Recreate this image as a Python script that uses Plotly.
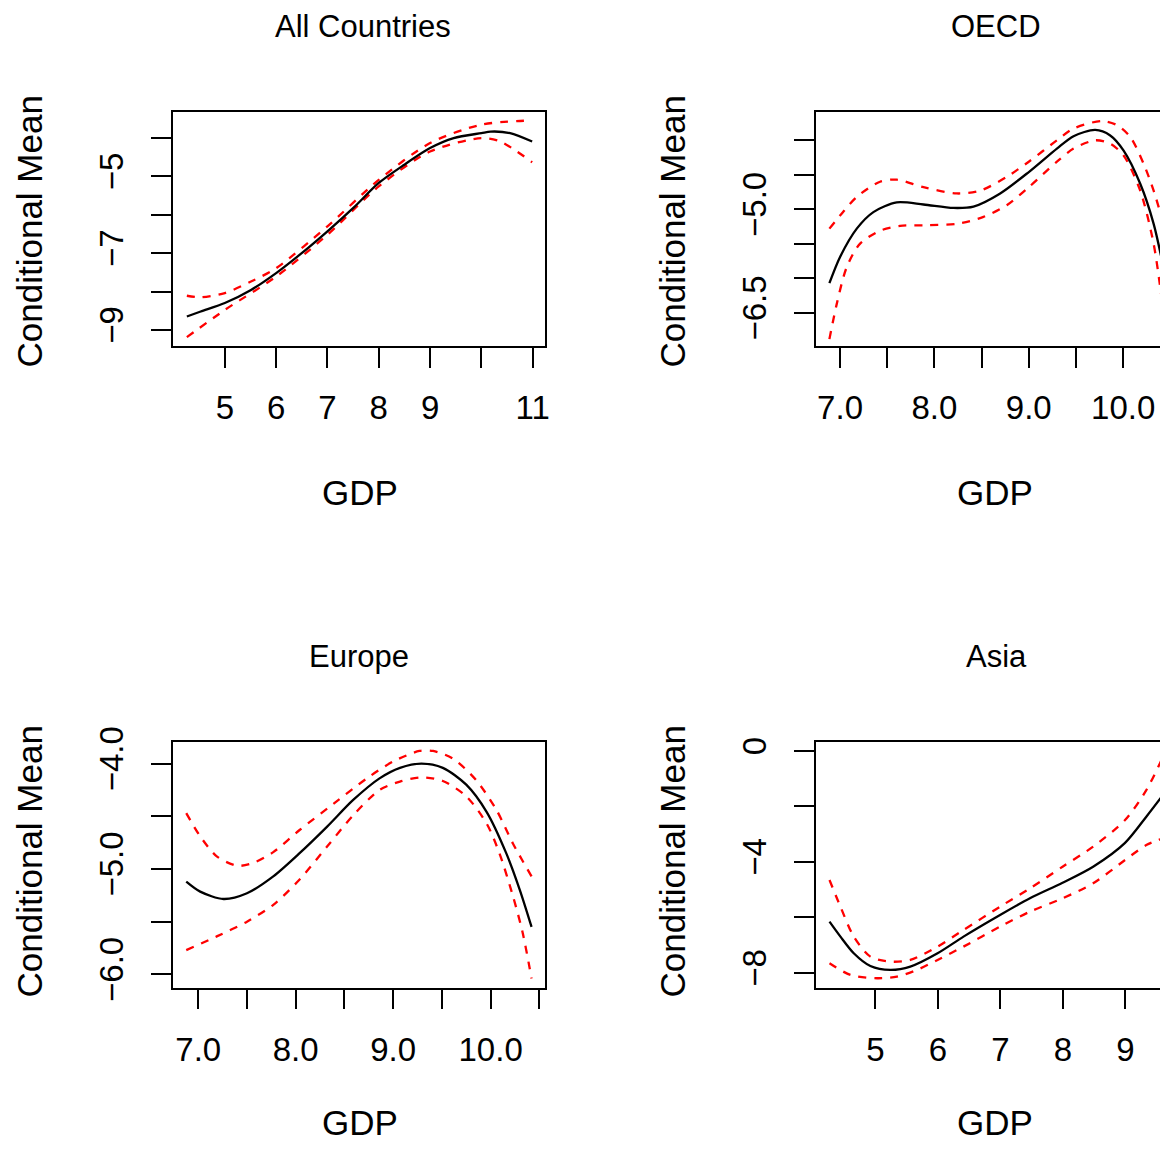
import plotly.graph_objects as go

# ---------------- data ----------------
# All Countries
all_fit_x = [4.26, 4.53, 5.0, 5.51, 6.0, 6.48, 7.0, 7.52, 8.0, 8.49, 9.0, 9.46, 10.0, 10.18, 10.56, 10.99]
all_fit_y = [-8.65, -8.52, -8.30, -7.96, -7.52, -7.02, -6.43, -5.80, -5.17, -4.70, -4.26, -4.00, -3.87, -3.83, -3.87, -4.09]
all_up_x = [4.26, 4.53, 5.0, 5.51, 6.0, 7.0, 8.0, 9.0, 10.0, 10.99]
all_up_y = [-8.11, -8.15, -8.04, -7.74, -7.39, -6.30, -5.09, -4.13, -3.65, -3.54]
all_lo_x = [4.26, 5.0, 6.0, 7.0, 8.0, 9.0, 10.0, 10.37, 10.99]
all_lo_y = [-9.19, -8.48, -7.61, -6.52, -5.26, -4.35, -4.00, -4.09, -4.63]

# OECD
oecd_fit_x = [6.887, 7.0, 7.177, 7.353, 7.601, 7.884, 8.202, 8.414, 8.697, 9.0, 9.298, 9.474, 9.704, 9.863, 10.005, 10.181, 10.323, 10.422]
oecd_fit_y = [-6.07, -5.69, -5.28, -5.04, -4.90, -4.93, -4.98, -4.96, -4.77, -4.46, -4.12, -3.94, -3.85, -3.93, -4.15, -4.63, -5.21, -5.81]
oecd_up_x = [6.887, 7.0, 7.177, 7.424, 7.601, 7.884, 8.237, 8.485, 8.767, 9.0, 9.298, 9.474, 9.775, 9.934, 10.075, 10.217, 10.323, 10.422]
oecd_up_y = [-5.28, -5.09, -4.82, -4.60, -4.57, -4.68, -4.77, -4.73, -4.53, -4.31, -4.00, -3.83, -3.72, -3.78, -3.95, -4.34, -4.73, -5.18]
oecd_lo_x = [6.887, 6.965, 7.07, 7.21, 7.424, 7.636, 7.919, 8.237, 8.52, 8.767, 9.0, 9.298, 9.474, 9.704, 9.863, 10.005, 10.181, 10.323, 10.422]
oecd_lo_y = [-6.88, -6.37, -5.84, -5.50, -5.31, -5.24, -5.23, -5.21, -5.11, -4.94, -4.68, -4.31, -4.12, -4.00, -4.05, -4.22, -4.73, -5.50, -6.44]

# Europe
eu_fit_x = [6.877, 7.02, 7.26, 7.50, 7.77, 8.04, 8.32, 8.59, 8.86, 9.07, 9.29, 9.51, 9.75, 9.96, 10.16, 10.30, 10.42]
eu_fit_y = [-5.12, -5.215, -5.285, -5.23, -5.07, -4.85, -4.60, -4.345, -4.14, -4.04, -4.00, -4.04, -4.20, -4.46, -4.85, -5.20, -5.55]
eu_up_x = [6.877, 7.02, 7.19, 7.40, 7.57, 7.77, 8.04, 8.39, 8.73, 9.0, 9.27, 9.41, 9.61, 9.85, 10.06, 10.23, 10.42]
eu_up_y = [-4.47, -4.69, -4.88, -4.97, -4.94, -4.84, -4.63, -4.38, -4.14, -3.98, -3.88, -3.88, -3.95, -4.155, -4.44, -4.76, -5.07]
eu_lo_x = [6.877, 7.19, 7.50, 7.77, 8.04, 8.32, 8.59, 8.86, 9.07, 9.29, 9.51, 9.75, 9.96, 10.09, 10.23, 10.33, 10.42]
eu_lo_y = [-5.77, -5.64, -5.50, -5.34, -5.10, -4.79, -4.49, -4.25, -4.17, -4.13, -4.165, -4.31, -4.57, -4.85, -5.26, -5.61, -6.04]

# Asia
asia_fit_x = [4.266, 4.441, 4.654, 4.920, 5.239, 5.559, 5.995, 6.410, 6.995, 7.473, 7.995, 8.484, 8.995, 9.335, 9.601]
asia_fit_y = [-6.15, -6.69, -7.29, -7.75, -7.89, -7.77, -7.29, -6.69, -5.91, -5.31, -4.75, -4.17, -3.31, -2.37, -1.59]
asia_up_x = [4.266, 4.441, 4.654, 4.920, 5.239, 5.559, 5.995, 6.410, 6.995, 7.473, 7.995, 8.484, 8.995, 9.335, 9.601]
asia_up_y = [-4.65, -5.61, -6.69, -7.41, -7.59, -7.53, -7.05, -6.45, -5.61, -4.95, -4.17, -3.45, -2.49, -1.41, -0.22]
asia_lo_x = [4.266, 4.601, 5.027, 5.346, 5.665, 5.995, 6.410, 6.995, 7.473, 7.995, 8.484, 8.995, 9.335, 9.601]
asia_lo_y = [-7.65, -8.07, -8.19, -8.13, -7.89, -7.53, -7.05, -6.33, -5.79, -5.31, -4.77, -3.93, -3.39, -3.15]

titles = ["All Countries", "OECD", "Europe", "Asia"]
x_label = "GDP"
y_label = "Conditional Mean"

# tick values / labels
all_xt = [5, 6, 7, 8, 9, 10, 11]
all_xl = ["5", "6", "7", "8", "9", "", "11"]
all_yt = [-4, -5, -6, -7, -8, -9]
all_yl = ["", "−5", "", "−7", "", "−9"]
oecd_xt = [7.0, 7.5, 8.0, 8.5, 9.0, 9.5, 10.0]
oecd_xl = ["7.0", "", "8.0", "", "9.0", "", "10.0"]
oecd_yt = [-4.0, -4.5, -5.0, -5.5, -6.0, -6.5]
oecd_yl = ["", "", "−5.0", "", "", "−6.5"]
eu_xt = [7.0, 7.5, 8.0, 8.5, 9.0, 9.5, 10.0, 10.5]
eu_xl = ["7.0", "", "8.0", "", "9.0", "", "10.0", ""]
eu_yt = [-4.0, -4.5, -5.0, -5.5, -6.0]
eu_yl = ["−4.0", "", "−5.0", "", "−6.0"]
asia_xt = [5, 6, 7, 8, 9]
asia_xl = ["5", "6", "7", "8", "9"]
asia_yt = [0, -2, -4, -6, -8]
asia_yl = ["0", "", "−4", "", "−8"]

# ---------------- figure ----------------
W, H = 1168, 1153
OFF = 8  # page body margin offset
FONT = "Liberation Sans"
fig = go.Figure()

panels = [
    (all_fit_x, all_fit_y, all_up_x, all_up_y, all_lo_x, all_lo_y),
    (oecd_fit_x, oecd_fit_y, oecd_up_x, oecd_up_y, oecd_lo_x, oecd_lo_y),
    (eu_fit_x, eu_fit_y, eu_up_x, eu_up_y, eu_lo_x, eu_lo_y),
    (asia_fit_x, asia_fit_y, asia_up_x, asia_up_y, asia_lo_x, asia_lo_y),
]
for i, (fx, fy, ux, uy, lx, ly) in enumerate(panels):
    xa = "x" if i == 0 else f"x{i+1}"
    ya = "y" if i == 0 else f"y{i+1}"
    for xs, ys in ((ux, uy), (lx, ly)):
        fig.add_trace(go.Scatter(x=xs, y=ys, mode="lines", xaxis=xa, yaxis=ya,
                                 line=dict(color="#FF0000", width=2.3, dash="8px,8px", shape="spline", smoothing=0.8),
                                 showlegend=False, hoverinfo="skip"))
    fig.add_trace(go.Scatter(x=fx, y=fy, mode="lines", xaxis=xa, yaxis=ya,
                             line=dict(color="black", width=2.3, shape="spline", smoothing=0.8),
                             showlegend=False, hoverinfo="skip"))

def px_x(p):
    return (p - OFF) / W

def px_y(p):
    return 1 - (p - OFF) / H

left_dom = [px_x(173), px_x(545)]
right_dom = [px_x(816), 1.0]
top_dom = [px_y(346), px_y(112)]
bot_dom = [px_y(987.7), px_y(741.5)]

def xaxis(dom, anchor, rng, tv, tt):
    return dict(domain=dom, anchor=anchor, range=rng, tickvals=tv, ticktext=tt,
                showline=True, mirror=True, linecolor="black", linewidth=1.5,
                ticks="outside", ticklen=20, tickwidth=1.5, tickcolor="black",
                showgrid=False, zeroline=False, ticklabelstandoff=12, automargin=False,
                tickfont=dict(family=FONT, size=33, color="black"))

def yaxis(dom, anchor, rng, tv, tt, mirror):
    return dict(domain=dom, anchor=anchor, range=rng, tickvals=tv, ticktext=tt,
                showline=True, mirror=mirror, linecolor="black", linewidth=1.5,
                ticks="outside", ticklen=20, tickwidth=1.5, tickcolor="black",
                showgrid=False, zeroline=False, tickangle=-90, ticklabelstandoff=15, automargin=False,
                tickfont=dict(family=FONT, size=33, color="black"))

fig.update_layout(
    width=W, height=H, margin=dict(l=0, r=0, t=0, b=0, autoexpand=False),
    paper_bgcolor="white", plot_bgcolor="white",
    xaxis=xaxis(left_dom, "y", [3.99, 11.24], all_xt, all_xl),
    yaxis=yaxis(top_dom, "x", [-9.42, -3.32], all_yt, all_yl, True),
    xaxis2=xaxis(right_dom, "y2", [6.745, 10.56], oecd_xt, oecd_xl),
    yaxis2=yaxis(top_dom, "x2", [-6.98, -3.59], oecd_yt, oecd_yl, False),
    xaxis3=xaxis(left_dom, "y3", [6.741, 10.558], eu_xt, eu_xl),
    yaxis3=yaxis(bot_dom, "x3", [-6.127, -3.79], eu_yt, eu_yl, True),
    xaxis4=xaxis(right_dom, "y4", [4.05, 9.81], asia_xt, asia_xl),
    yaxis4=yaxis(bot_dom, "x4", [-8.53, 0.34], asia_yt, asia_yl, False),
)

ann = []
title_pos = [(363, 26.7), (996, 26.7), (359, 656.7), (996, 656.7)]
for t, (px, py) in zip(titles, title_pos):
    ann.append(dict(text=t, x=px_x(px), y=px_y(py), xref="paper", yref="paper",
                    showarrow=False, xanchor="center", yanchor="middle",
                    font=dict(family=FONT, size=31, color="black")))
for px, py in [(360, 492.5), (995, 492.5), (360, 1122.5), (995, 1122.5)]:
    ann.append(dict(text=x_label, x=px_x(px), y=px_y(py), xref="paper", yref="paper",
                    showarrow=False, xanchor="center", yanchor="middle",
                    font=dict(family=FONT, size=35, color="black")))
for px, py in [(29, 231.5), (672, 231.5), (29, 861.5), (672, 861.5)]:
    ann.append(dict(text=y_label, x=px_x(px), y=px_y(py), xref="paper", yref="paper",
                    showarrow=False, xanchor="center", yanchor="middle", textangle=-90,
                    borderpad=0, font=dict(family=FONT, size=35, color="black")))
fig.update_layout(annotations=ann)

fig.write_html("out.html")
